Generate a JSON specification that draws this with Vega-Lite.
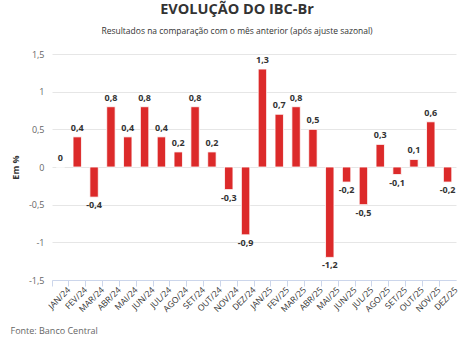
{
  "$schema": "https://vega.github.io/schema/vega-lite/v6.json",
  "width": 404,
  "height": 226,
  "autosize": {"type": "none"},
  "padding": {"left": 52, "top": 54, "right": 18, "bottom": 57},
  "background": "#ffffff",
  "title": {
    "text": "EVOLUÇÃO DO IBC-Br",
    "subtitle": "Resultados na comparação com o mês anterior (após ajuste sazonal)",
    "anchor": "middle",
    "dx": -17,
    "offset": 14,
    "font": "Open Sans",
    "fontSize": 14.5,
    "fontWeight": "bold",
    "color": "#333333",
    "subtitleFont": "Open Sans",
    "subtitleFontSize": 8.5,
    "subtitleColor": "#333333",
    "subtitlePadding": 9
  },
  "config": {
    "font": "Open Sans",
    "view": {"stroke": null},
    "locale": {
      "number": {"decimal": ",", "thousands": ".", "grouping": [3], "currency": ["R$", ""], "minus": "-"}
    }
  },
  "data": {
    "values": [
      {"mes": "JAN/24", "valor": 0},
      {"mes": "FEV/24", "valor": 0.4},
      {"mes": "MAR/24", "valor": -0.4},
      {"mes": "ABR/24", "valor": 0.8},
      {"mes": "MAI/24", "valor": 0.4},
      {"mes": "JUN/24", "valor": 0.8},
      {"mes": "JUL/24", "valor": 0.4},
      {"mes": "AGO/24", "valor": 0.2},
      {"mes": "SET/24", "valor": 0.8},
      {"mes": "OUT/24", "valor": 0.2},
      {"mes": "NOV/24", "valor": -0.3},
      {"mes": "DEZ/24", "valor": -0.9},
      {"mes": "JAN/25", "valor": 1.3},
      {"mes": "FEV/25", "valor": 0.7},
      {"mes": "MAR/25", "valor": 0.8},
      {"mes": "ABR/25", "valor": 0.5},
      {"mes": "MAI/25", "valor": -1.2},
      {"mes": "JUN/25", "valor": -0.2},
      {"mes": "JUL/25", "valor": -0.5},
      {"mes": "AGO/25", "valor": 0.3},
      {"mes": "SET/25", "valor": -0.1},
      {"mes": "OUT/25", "valor": 0.1},
      {"mes": "NOV/25", "valor": 0.6},
      {"mes": "DEZ/25", "valor": -0.2}
    ]
  },
  "encoding": {
    "x": {
      "field": "mes",
      "type": "ordinal",
      "sort": null,
      "scale": {"paddingInner": 0, "paddingOuter": 0},
      "axis": {
        "title": "Fonte: Banco Central",
        "titleFont": "Open Sans",
        "titleFontSize": 9,
        "titleFontWeight": "normal",
        "titleColor": "#666666",
        "titleAnchor": "start",
        "titleAlign": "left",
        "titleBaseline": "alphabetic",
        "titleX": -42,
        "titleY": 53,
        "bandPosition": 0,
        "labelOffset": 8.4,
        "labelAngle": -45,
        "labelAlign": "right",
        "labelBaseline": "middle",
        "labelFontSize": 8.5,
        "labelColor": "#333333",
        "labelPadding": 2,
        "domainColor": "#ccd6eb",
        "tickColor": "#ccd6eb",
        "tickSize": 6,
        "grid": false
      }
    },
    "y": {
      "field": "valor",
      "type": "quantitative",
      "scale": {"domain": [-1.5, 1.5], "nice": false},
      "axis": {
        "title": "Em %",
        "titleFontSize": 9,
        "titleFontWeight": "bold",
        "titleColor": "#333333",
        "titlePadding": 8,
        "values": [-1.5, -1, -0.5, 0, 0.5, 1, 1.5],
        "format": ".1~f",
        "labelFontSize": 9,
        "labelColor": "#666666",
        "labelPadding": 8,
        "domain": false,
        "ticks": false,
        "gridColor": "#e6e6e6"
      }
    }
  },
  "layer": [
    {
      "mark": {"type": "bar", "width": {"band": 0.5}, "color": "#dc2a2a", "stroke": "#ffffff", "strokeWidth": 0.8}
    },
    {
      "transform": [{"filter": "datum.valor >= 0"}],
      "mark": {"type": "text", "baseline": "bottom", "dy": -4, "fontSize": 9, "fontWeight": "bold", "color": "#333333"},
      "encoding": {"text": {"field": "valor", "type": "quantitative", "format": ".1~f"}}
    },
    {
      "transform": [{"filter": "datum.valor < 0"}],
      "mark": {"type": "text", "baseline": "top", "dy": 4, "fontSize": 9, "fontWeight": "bold", "color": "#333333"},
      "encoding": {"text": {"field": "valor", "type": "quantitative", "format": ".1~f"}}
    }
  ]
}
